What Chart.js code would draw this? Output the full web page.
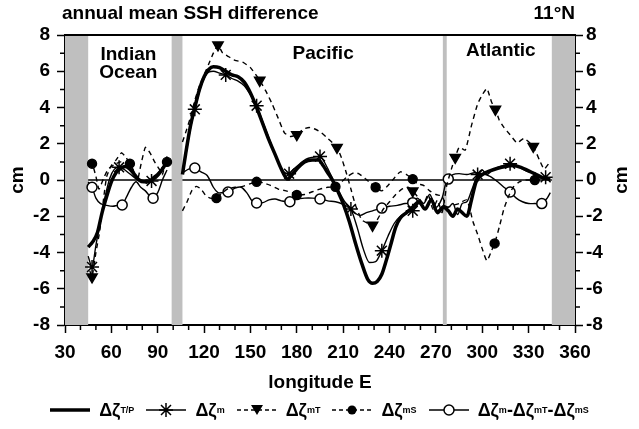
<!DOCTYPE html>
<html>
<head>
<meta charset="utf-8">
<script src="https://cdn.jsdelivr.net/npm/chart.js@4.4.1/dist/chart.umd.min.js"></script>
<style>
    body { margin: 0; background: #fff; }
    #wrap { position: relative; width: 639px; height: 429px; font-family: 'Liberation Sans', Arial, sans-serif; font-weight: bold; color: #000; }
    #chart { position: absolute; left: 0; top: 0; }
    #legend { position: absolute; left: 0; top: 398px; width: 639px; height: 24px; display: flex; justify-content: center; align-items: center; font-size: 18px; }
    .item { display: flex; align-items: center; margin: 0 6px; white-space: nowrap; }
    .item svg { margin-right: 9px; }
    sub { font-size: 9px; vertical-align: -3px; }
</style>
</head>
<body>
<div id="wrap">
    <canvas id="chart" width="639" height="429"></canvas>
    <div id="legend">
        <div class="item"><svg width="40" height="14"><line x1="0" y1="7" x2="40" y2="7" stroke="#000" stroke-width="3.5"/></svg>Δζ<sub>T/P</sub></div>
        <div class="item"><svg width="40" height="14"><line x1="0" y1="7" x2="40" y2="7" stroke="#000" stroke-width="1.5"/><path d="M20 0V14M13 7H27M15 2L25 12M25 2L15 12" stroke="#000" stroke-width="1.5"/></svg>Δζ<sub>m</sub></div>
        <div class="item"><svg width="40" height="14"><line x1="0" y1="7" x2="40" y2="7" stroke="#000" stroke-width="1.5" stroke-dasharray="4 3"/><polygon points="14,2 26,2 20,12" fill="#000"/></svg>Δζ<sub>mT</sub></div>
        <div class="item"><svg width="40" height="14"><line x1="0" y1="7" x2="40" y2="7" stroke="#000" stroke-width="1.5" stroke-dasharray="4 3"/><circle cx="20" cy="7" r="4.5" fill="#000"/></svg>Δζ<sub>mS</sub></div>
        <div class="item"><svg width="40" height="14"><line x1="0" y1="7" x2="40" y2="7" stroke="#000" stroke-width="1.5"/><circle cx="20" cy="7" r="5" fill="#fff" stroke="#000" stroke-width="1.5"/></svg>Δζ<sub>m</sub>-Δζ<sub>mT</sub>-Δζ<sub>mS</sub></div>
    </div>
</div>
<script>
// longitude (deg E) and SSH difference (cm); null breaks the line at the land gap
const tpLon = [45, 48, 51, 54, 57, 60, 63, 66, 69, 72, 75, 78, 81, 84, 87, 90, 93, 96, 100,
    106, 108, 111, 114, 117, 120, 123, 126, 130, 134, 138, 142, 146, 150, 154, 158, 162, 166, 170, 174,
    177, 181, 185, 190, 194, 197, 200, 203, 207, 210, 214, 218, 222, 226, 229, 232, 235, 238, 241, 244,
    247, 251, 255, 259, 263, 267, 271, 275, 278, 281, 284, 287, 290, 293, 296, 300, 305, 310, 315, 320,
    325, 330, 335, 340, 344];
const tpVal = [-3.7, -3.4, -2.9, -1.8, -0.9, -0.1, 0.4, 0.65, 0.75, 0.6, 0.3, 0.0, -0.1, -0.1, 0.1, 0.3, 0.6, 1.0, null,
    0.3, 1.4, 2.9, 4.0, 5.0, 5.7, 6.1, 6.25, 6.2, 6.0, 5.8, 5.7, 5.4, 4.8, 4.0, 3.1, 2.2, 1.4, 0.6, 0.05,
    0.3, 0.7, 1.0, 1.1, 1.1, 0.8, 0.4, 0.0, -0.7, -1.3, -2.3, -3.5, -4.6, -5.5, -5.7, -5.6, -5.2, -4.4, -3.5, -2.6,
    -2.1, -1.8, -1.5, -1.2, -1.6, -1.1, -1.8, -1.5, -1.7, -2.0, -1.6, -1.8, -2.0, -1.1, -0.1, 0.3, 0.5, 0.65, 0.75, 0.8,
    0.7, 0.5, 0.3, 0.1, 0.05];

const mLon = [45, 47.5, 50, 53, 56, 59, 62, 65, 68, 71, 74, 77, 80, 83, 86, 89, 92, 95, 100,
    106, 109, 112, 114, 117, 120, 123, 126, 130, 134, 138, 142, 146, 150, 154, 158, 162, 166, 170, 175,
    178, 182, 186, 190, 195, 199, 203, 207, 211, 215, 219, 223, 227, 231, 235, 239, 243, 247, 251, 255,
    259, 263, 267, 271, 275, 278, 281, 284, 287, 290, 293, 297, 300, 303, 306, 310, 314, 318, 322, 326,
    330, 334, 338, 341, 344];
const mVal = [-4.2, -4.8, -3.6, -2.2, -0.9, 0.1, 0.6, 0.7, 0.6, 0.4, 0.2, 0.0, -0.1, 0.0, -0.05, 0.1, 0.4, 0.9, null,
    0.35, 1.8, 3.2, 3.9, 4.9, 5.6, 5.95, 6.0, 5.9, 5.8, 5.6, 5.45, 5.2, 4.7, 4.1, 3.2, 2.3, 1.4, 0.6, 0.35,
    0.6, 0.9, 1.15, 1.25, 1.3, 0.8, 0.1, -0.6, -1.2, -1.6, -2.6, -3.8, -4.55, -4.5, -3.9, -3.1, -2.4, -2.0, -1.8, -1.7,
    -1.3, -1.6, -1.0, -1.7, -1.4, -1.5, -1.3, -1.9, -1.3, -1.2, -0.6, 0.3, 0.55, 0.3, 0.5, 0.7, 0.8, 0.9, 0.8, 0.6,
    0.45, 0.4, 0.1, 0.15, 0.1];
const mMarks = [47.5, 65, 86, 114, 134, 154, 175, 195, 215, 235, 255, 297, 318, 341];

const mtLon = [46, 47.5, 50, 52.5, 55, 57, 60, 63, 66.5, 69, 72, 75, 77, 79, 82, 85, 88, 91, 93, 96, 100,
    106, 108, 111, 114, 117, 120, 123, 126, 129, 132, 136, 140, 145, 150, 156, 160, 164, 168, 172, 176,
    180, 184, 188, 192, 196, 200, 206, 209, 212, 215, 218, 222, 226, 229, 232, 236, 240, 244, 248, 252,
    255, 258, 262, 265, 268, 271, 274, 277, 280, 282.5, 285, 289, 293, 297, 300, 303, 306, 308.5, 311, 314,
    318, 322.5, 327, 333, 337, 340, 343];
const mtVal = [-5.0, -5.35, -4.0, -2.8, -1.0, 0.2, 0.8, 1.1, 1.5, 1.3, 0.9, 0.4, 0.0, 0.8, 1.8, 1.5, 1.0, 0.6, 0.3, 1.3, null,
    2.1, 2.6, 3.4, 4.4, 5.2, 5.8, 6.4, 7.0, 7.45, 7.0, 6.8, 6.6, 6.5, 6.2, 5.5, 4.9, 4.2, 3.4, 2.6, 2.4,
    2.5, 2.8, 2.9, 2.8, 2.6, 2.3, 1.8, 1.2, 0.4, -0.5, -1.4, -2.2, -2.4, -2.5, -2.2, -1.6, -1.2, -0.8, -0.5, -0.4,
    -0.6, -0.9, -1.3, -0.8, -1.6, -1.1, -1.8, -0.3, 0.6, 1.25, 1.8, 1.65, 3.0, 4.2, 4.7, 5.05, 4.3, 3.9, 3.3, 2.9,
    2.5, 2.05, 2.3, 1.85, 1.1, 0.6, 0.9];
const mtMarks = [47.5, 129, 156, 180, 206, 229, 255, 282.5, 308.5, 333];

const msLon = [45, 47.5, 50, 52, 55, 58, 62, 66, 69, 72, 75, 78, 81, 84, 88, 92, 96, 100,
    106, 109, 112, 115, 118, 121, 124, 128, 132, 136, 140, 145, 150, 154, 158, 163, 168, 173, 177,
    180, 185, 190, 195, 200, 205, 209, 213, 217, 220, 224, 228, 231, 235, 239, 243, 247, 251, 255,
    258, 262, 266, 270, 274, 277, 281, 285, 290, 294, 297, 300, 303, 306, 308, 311, 314, 317, 320,
    324, 328, 334, 338, 342, 344];
const msVal = [1.0, 0.9, 0.2, -0.5, 0.1, 0.6, 0.85, 1.0, 0.95, 0.9, 0.4, 0.0, -0.1, -0.2, 0.1, 0.6, 1.0, null,
    -1.7, -1.2, -0.6, -0.35, -0.5, -0.85, -1.0, -1.0, -0.7, -0.45, -0.4, -0.35, -0.2, -0.1, -0.15, -0.3, -0.5, -0.6, -0.7,
    -0.83, -0.8, -0.65, -0.5, -0.4, -0.37, -0.1, 0.2, 0.4, 0.35, 0.1, -0.2, -0.4, -0.6, -0.3, 0.1, 0.45, 0.3, 0.05,
    -0.2, -0.3, -0.6, -0.8, -0.9, -1.5, -1.4, -1.3, -1.1, -2.3, -3.0, -3.8, -4.45, -3.9, -3.5, -2.6, -1.6, -0.9, -0.4,
    -0.1, 0.0, 0.0, 0.05, 0.1, 0.05];
const msMarks = [47.5, 72, 96, 128, 154, 180, 205, 231, 255, 308, 334];

const resLon = [45, 47.5, 50, 53, 57, 61, 64, 67, 70, 73, 76, 79, 82, 85, 87, 90, 93, 96, 100,
    106, 110, 114, 118, 122, 126, 129, 132, 135.5, 140, 144, 148, 151, 154, 158, 162, 166, 170, 175.5,
    180, 185, 190, 195, 200, 205, 210, 214, 218, 221, 225, 229, 235, 240, 245, 250, 255,
    258, 262, 266, 270, 274, 276, 278, 281, 285, 290, 295, 300, 305, 310, 314,
    318, 322, 326, 330, 334, 338.5, 342, 344];
const resVal = [-0.1, -0.4, -1.0, -1.3, -1.4, -1.45, -1.4, -1.38, -0.9, -0.4, -0.1, -0.4, -0.6, -0.9, -1.0, -0.7, 0.0, 0.55, null,
    0.4, 0.6, 0.66, 0.45, 0.25, -0.4, -0.7, -0.7, -0.66, -0.45, -0.4, -0.75, -1.15, -1.27, -1.25, -1.1, -1.05, -1.15, -1.2,
    -1.05, -1.0, -1.0, -1.05, -1.15, -1.2, -1.35, -1.55, -1.85, -1.95, -1.8, -1.7, -1.55, -1.45, -1.4, -1.3, -1.25,
    -1.0, -1.3, -0.8, -1.5, -1.0, -0.3, 0.05, 0.3, 0.35, 0.3, 0.4, 0.35, 0.2, -0.1, -0.4,
    -0.66, -1.0, -1.2, -1.3, -1.3, -1.3, -1.0, -0.7];
const resMarks = [47.5, 67, 87, 114, 135.5, 154, 175.5, 195, 235, 255, 278, 318, 338.5];

// shaded land / basin boundaries
const bandFrom = [30, 99, 274.5, 345];
const bandTo = [45, 106, 277, 360];

const regionNames = [['Indian', 'Ocean'], ['Pacific'], ['Atlantic']];
const regionLon = [71, 197, 312];

const FONT = "'Liberation Sans', Arial, sans-serif";
Chart.defaults.font.family = FONT;
Chart.defaults.font.weight = 'bold';
Chart.defaults.font.size = 19;
Chart.defaults.color = '#000';

const pts = (lon, val) => lon.map((x, i) => ({x: x, y: val[i]}));
const marked = (list, r) => ctx => (ctx.raw && list.includes(ctx.raw.x) ? r : 0);

const decor = {
    id: 'decor',
    beforeDatasetsDraw(chart) {
        const {ctx, chartArea: a, scales: {x, y}} = chart;
        ctx.save();
        const y0 = y.getPixelForValue(0);
        ctx.strokeStyle = '#000';
        ctx.lineWidth = 1.5;
        ctx.beginPath();
        ctx.moveTo(a.left, y0);
        ctx.lineTo(a.right, y0);
        ctx.stroke();
        ctx.fillStyle = '#bfbfbf';
        bandFrom.forEach((b, i) => {
            const x0 = x.getPixelForValue(b), x1 = x.getPixelForValue(bandTo[i]);
            ctx.fillRect(x0, a.top, x1 - x0, a.bottom - a.top);
        });
        ctx.fillStyle = '#000';
        ctx.font = 'bold 19px ' + FONT;
        ctx.textAlign = 'center';
        ctx.textBaseline = 'middle';
        const rowY = [[20, 38], [19], [16]];
        regionNames.forEach((lines, i) => {
            lines.forEach((t, j) => ctx.fillText(t, x.getPixelForValue(regionLon[i]), a.top + rowY[i][j]));
        });
        ctx.restore();
    },
    afterDraw(chart) {
        const {ctx, chartArea: a, scales: {x, y}} = chart;
        ctx.save();
        ctx.strokeStyle = '#000';
        ctx.lineWidth = 2;
        ctx.beginPath();
        ctx.moveTo(a.left, a.top);
        ctx.lineTo(a.right, a.top);
        ctx.stroke();
        // minor ticks
        ctx.lineWidth = 1.5;
        ctx.beginPath();
        for (let v = 40; v < 360; v += 10) {
            if (v % 30 === 0) continue;
            const px = x.getPixelForValue(v);
            ctx.moveTo(px, a.bottom);
            ctx.lineTo(px, a.bottom + 5);
        }
        for (let v = -7; v <= 7; v += 2) {
            const py = y.getPixelForValue(v);
            ctx.moveTo(a.left - 5, py);
            ctx.lineTo(a.left, py);
            ctx.moveTo(a.right, py);
            ctx.lineTo(a.right + 5, py);
        }
        ctx.stroke();
        ctx.fillStyle = '#000';
        ctx.font = 'bold 19px ' + FONT;
        ctx.textBaseline = 'alphabetic';
        ctx.textAlign = 'left';
        ctx.fillText('annual mean SSH difference', a.left - 3, 19);
        ctx.textAlign = 'right';
        ctx.fillText('11°N', a.right, 19);
        ctx.textAlign = 'center';
        ctx.textBaseline = 'middle';
        const mid = (a.top + a.bottom) / 2;
        [18, 622].forEach(cx => {
            ctx.save();
            ctx.translate(cx, mid);
            ctx.rotate(-Math.PI / 2);
            ctx.fillText('cm', 0, 0);
            ctx.restore();
        });
        ctx.restore();
    }
};

const yTicks = {stepSize: 2, padding: 7, font: {size: 19}};
const axisGrid = {drawOnChartArea: false, color: '#000', tickLength: 8, tickWidth: 1.5};

new Chart(document.getElementById('chart'), {
    type: 'line',
    data: {
        datasets: [
            {
                label: 'T/P',
                data: pts(tpLon, tpVal),
                borderColor: '#000', borderWidth: 3.5,
                pointRadius: 0, tension: 0.4, cubicInterpolationMode: 'monotone'
            },
            {
                label: 'm',
                data: pts(mLon, mVal),
                borderColor: '#000', borderWidth: 1.4,
                pointStyle: 'star', pointRadius: marked(mMarks, 7),
                pointBorderColor: '#000', pointBorderWidth: 1.5,
                tension: 0.4, cubicInterpolationMode: 'monotone'
            },
            {
                label: 'mT',
                data: pts(mtLon, mtVal),
                borderColor: '#000', borderWidth: 1.4, borderDash: [5, 4],
                pointStyle: 'triangle', pointRotation: 180, pointRadius: marked(mtMarks, 6),
                pointBackgroundColor: '#000', pointBorderColor: '#000',
                tension: 0.15
            },
            {
                label: 'mS',
                data: pts(msLon, msVal),
                borderColor: '#000', borderWidth: 1.4, borderDash: [5, 4],
                pointStyle: 'circle', pointRadius: marked(msMarks, 4.5),
                pointBackgroundColor: '#000', pointBorderColor: '#000',
                tension: 0.2
            },
            {
                label: 'residual',
                data: pts(resLon, resVal),
                borderColor: '#000', borderWidth: 1.4,
                pointStyle: 'circle', pointRadius: marked(resMarks, 5),
                pointBackgroundColor: '#fff', pointBorderColor: '#000', pointBorderWidth: 1.5,
                tension: 0.3
            }
        ]
    },
    options: {
        responsive: false,
        animation: false,
        devicePixelRatio: 1,
        spanGaps: false,
        layout: {padding: {top: 35, left: 0, right: 0, bottom: 34}},
        plugins: {legend: {display: false}, tooltip: {enabled: false}},
        scales: {
            x: {
                type: 'linear', min: 30, max: 360,
                ticks: {stepSize: 30, padding: 8, maxRotation: 0, autoSkip: false},
                grid: axisGrid,
                border: {color: '#000', width: 2},
                title: {display: true, text: 'longitude E', font: {size: 19}, padding: {top: 0, bottom: 1}},
                afterFit: s => { s.height = 70; }
            },
            y: {
                position: 'left', min: -8, max: 8,
                ticks: yTicks,
                grid: axisGrid,
                border: {color: '#000', width: 2},
                afterFit: s => { s.width = 65; }
            },
            y2: {
                position: 'right', min: -8, max: 8,
                ticks: {stepSize: 2, padding: 3, font: {size: 19}},
                grid: axisGrid,
                border: {color: '#000', width: 2},
                afterFit: s => { s.width = 64; }
            }
        }
    },
    plugins: [decor]
});
</script>
</body>
</html>
